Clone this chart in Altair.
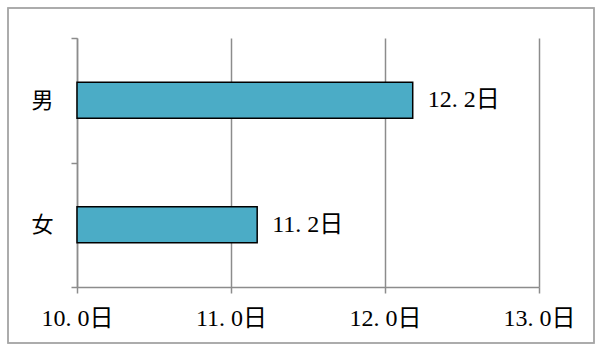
import altair as alt
import pandas as pd

categories = ["男", "女"]
values = [12.18, 11.17]
x_ticks = [10, 11, 12, 13]
base_value = 10

df = pd.DataFrame({"cat": categories, "val": values})
df["base"] = base_value
df["label"] = df["val"].map(lambda v: f"{v:.1f}".replace(".", ". ") + "日")

FONT = "Liberation Serif, Noto Sans CJK JP"
GREY = "#8C8C8C"

xscale = alt.Scale(domain=[10, 13], nice=False, zero=False)
yscale = alt.Scale(paddingInner=0, paddingOuter=0)

x_axis = alt.Axis(
    values=x_ticks,
    labelExpr="replace(format(datum.value, '.1f'), '.', '. ') + '日'",
    title=None,
    grid=True,
    gridColor=GREY,
    gridWidth=1.5,
    domainColor=GREY,
    domainWidth=1.5,
    tickColor=GREY,
    tickWidth=1.5,
    tickSize=6,
    labelFont=FONT,
    labelFontSize=24,
    labelColor="#000000",
    labelPadding=13,
    labelFlush=False,
)
y_axis = alt.Axis(
    title=None,
    tickBand="extent",
    domainColor=GREY,
    domainWidth=1.5,
    tickColor=GREY,
    tickWidth=1.5,
    tickSize=6,
    labelFont="Noto Sans CJK JP",
    labelFontSize=22,
    labelColor="#000000",
    labelPadding=18,
    labelAngle=0,
)

bars = alt.Chart(df).mark_bar(
    color="#4BACC6", stroke="#000000", strokeWidth=1.5, size=36
).encode(
    x=alt.X("val:Q", scale=xscale, axis=x_axis),
    x2="base:Q",
    y=alt.Y("cat:N", sort=categories, scale=yscale, axis=y_axis),
)

text = alt.Chart(df).mark_text(
    align="left", baseline="middle", dx=15, font=FONT, fontSize=24, color="#000000"
).encode(
    x=alt.X("val:Q", scale=xscale, axis=x_axis),
    y=alt.Y("cat:N", sort=categories, scale=yscale, axis=y_axis),
    text="label:N",
)

frame = alt.Chart(df).mark_rect(
    fill="transparent", stroke="#A6A6A6", strokeWidth=1.5, clip=False
).encode(
    x=alt.value(-69), x2=alt.value(517), y=alt.value(-30), y2=alt.value(305)
)

chart = (
    alt.layer(frame, bars, text)
    .properties(
        width=462,
        height=249,
        autosize=alt.AutoSizeParams(type="none"),
        padding={"left": 77, "top": 38, "right": 64, "bottom": 65},
        background="white",
    )
    .configure_view(stroke=None)
)

chart.save("out.html", embed_options={"renderer": "svg", "actions": False})
